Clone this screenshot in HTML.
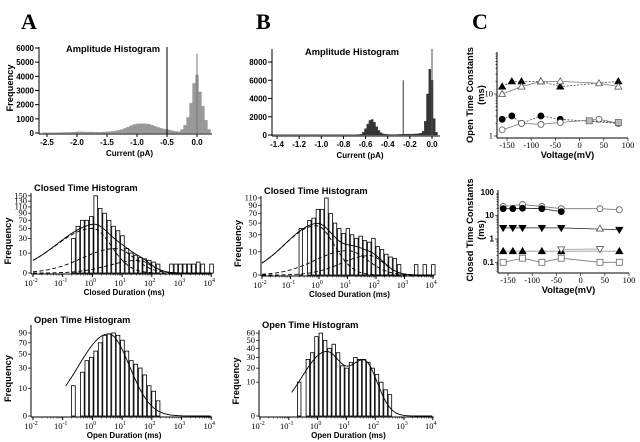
<!DOCTYPE html>
<html><head><meta charset="utf-8"><style>
html,body{margin:0;padding:0;background:#fff;}
svg{display:block;font-family:"Liberation Sans",sans-serif;}
.t{font-weight:bold;font-size:9.3px;}
.tk{font-size:8px;font-weight:bold;}
.lg{font-family:"Liberation Serif",serif;font-size:8.5px;}
</style></head><body>
<svg id="fig" width="640" height="442" viewBox="0 0 640 442">
<text x="21" y="29" font-family="Liberation Serif,serif" font-weight="bold" font-size="22">A</text>
<text x="256" y="29" font-family="Liberation Serif,serif" font-weight="bold" font-size="22">B</text>
<text x="472" y="29" font-family="Liberation Serif,serif" font-weight="bold" font-size="22">C</text>
</svg>
<script>
// ---- data ----
const ampABins = [-2.55,-2.5,-2.45,-2.4,-2.35,-2.3,-2.25,-2.2,-2.15,-2.1,-2.05,-2.0,-1.95,-1.9,-1.85,-1.8,-1.75,-1.7,-1.65,-1.6,-1.55,-1.5,-1.45,-1.4,-1.35,-1.3,-1.25,-1.2,-1.15,-1.1,-1.05,-1.0,-0.95,-0.9,-0.85,-0.8,-0.75,-0.7,-0.65,-0.6,-0.55,-0.5,-0.45,-0.4,-0.35,-0.3,-0.25,-0.2,-0.15,-0.1,-0.05,0.0,0.05,0.1,0.15,0.2];
const ampACounts = [20,20,20,20,20,30,30,40,40,50,60,80,80,80,70,70,70,60,60,60,70,80,100,120,150,200,250,330,420,520,600,640,660,660,650,620,560,480,400,330,280,250,200,150,110,100,250,550,1100,2100,3500,4100,2900,1900,900,250];
const ampASpike = [0.0, 5600];
const ampAThreshold = -0.5;
const ampATicksX = [-2.5,-2.0,-1.5,-1.0,-0.5,0.0];
const ampATicksY = [0,1000,2000,3000,4000,5000,6000];

const ampBBins = [-1.44,-1.42,-1.40,-1.38,-1.36,-1.34,-1.32,-1.30,-1.28,-1.26,-1.24,-1.22,-1.20,-1.18,-1.16,-1.14,-1.12,-1.10,-1.08,-1.06,-1.04,-1.02,-1.00,-0.98,-0.96,-0.94,-0.92,-0.90,-0.88,-0.86,-0.84,-0.82,-0.80,-0.78,-0.76,-0.74,-0.72,-0.70,-0.68,-0.66,-0.64,-0.62,-0.60,-0.58,-0.56,-0.54,-0.52,-0.50,-0.48,-0.46,-0.44,-0.42,-0.40,-0.38,-0.36,-0.34,-0.32,-0.30,-0.28,-0.26,-0.24,-0.22,-0.20,-0.18,-0.16,-0.14,-0.12,-0.10,-0.08,-0.06,-0.04,-0.02,0.0,0.02,0.04];
const ampBCounts = [30,30,30,30,30,30,30,30,30,30,30,30,30,30,30,30,30,30,30,30,30,30,30,30,30,30,30,30,30,30,30,30,30,30,30,30,30,30,40,60,100,300,700,1200,1600,1700,1400,900,500,250,120,80,60,50,50,50,50,60,70,80,90,100,100,100,110,120,150,200,400,1500,4500,7200,6000,1800,300];
const ampBThreshold = [-0.26, 6000];
const ampBTicksX = [-1.4,-1.2,-1.0,-0.8,-0.6,-0.4,-0.2,0.0];
const ampBTicksY = [0,2000,4000,6000,8000];

const logStart = -0.7, logStep = 0.15;
const closedACounts = [30,55,70,70,80,150,105,90,70,55,45,35,15,10,8,6,5,4,3,2,0,0,2,2,2,2,2,2,3,2,0,2];
const closedATau = [1.0, 6, 35];
const closedAAmp = [50, 15, 4];
const closedASigL = [0.89, 0.8, 0.7];
const closedASigR = [0.45, 0.45, 0.3];
const closedBCounts = [40,0,55,60,80,80,110,70,50,40,32,40,30,25,28,22,20,25,15,12,8,6,5,2,0,0,0,2,0,2,0,2];
const closedBTau = [0.8, 10, 60];
const closedBAmp = [45, 11, 7];
const closedBSigL = [0.8, 0.8, 0.7];
const closedBSigR = [0.45, 0.5, 0.35];
const openACounts = [12,0,25,40,45,55,70,85,88,90,85,75,55,40,35,30,22,12,8,3];
const openATau = [3.5];
const openAAmp = [88];
const openASigL = [0.72];
const openASigR = [0.5];
const openBCounts = [10,0,28,35,55,60,50,40,45,35,22,20,25,30,28,28,25,20,15,10,6,4];
const openBTau = [2, 40];
const openBAmp = [36, 27];
const openBSigL = [0.6, 0.45];
const openBSigR = [0.45, 0.33];
const closedTicksY = [0,10,30,50,70,90,110,130,150];
const closedBTicksY = [0,10,30,50,70,90,110];
const openATicksY = [0,10,30,50,70,90];
const openBTicksY = [0,10,20,30,40,50,60];
const logTicks = [-2,-1,0,1,2,3,4];

const cVolt = [-150,-100,-50,0,50,100];
const oFiTriV = [-160,-140,-120,-80,-40,80], oFiTriT = [15,20,20,20,15,20];
const oOpTriV = [-160,-120,-80,-40,40,80], oOpTriT = [10,15,20,20,18,15];
const oFiCirV = [-160,-140,-120,-80,-40,80], oFiCirT = [2.5,3,2,3,2.5,2];
const oOpCirV = [-160,-120,-80,-40,40,80], oOpCirT = [1.4,2,1.9,2.1,2.5,2];
const oSqV = [20,80], oSqT = [2.3,2.1];
const cOpCirV = [-160,-120,-80,-40,40,80], cOpCirT = [25,30,25,20,20,18];
const cFiCirV = [-160,-140,-120,-80,-40], cFiCirT = [20,20,21,20,15];
const cDnTriV = [-160,-140,-120,-80,-40,80], cDnTriT = [3,3,3,3,3,2.5];
const cOpTriV = [40], cOpTriT = [2.8];
const cFiTriV = [-160,-140,-120,-80,-40,80], cFiTriT = [0.3,0.3,0.3,0.3,0.3,0.3];
const cOpDnV = [-40,40], cOpDnT = [0.36,0.37];
const cSqV = [-160,-120,-80,-40,40,80], cSqT = [0.1,0.15,0.1,0.15,0.1,0.1];

// ---- drawing ----
const svg = document.getElementById('fig');
const NS = 'http://www.w3.org/2000/svg';
function el(tag, at, parent){ const e=document.createElementNS(NS,tag); for(const k in at) e.setAttribute(k,at[k]); (parent||svg).appendChild(e); return e; }
function txt(x,y,s,cls,anchor,parent){ const e=el('text',{x:x,y:y,class:cls,'text-anchor':anchor||'middle'},parent); e.textContent=s; return e; }
function grp(name){ const g=el('g',{});   return g; }

function ampPanel(name,cfg,bins,counts,step,ticksX,ticksY,fill){
  const g=grp(name);
  const X=v=>cfg.x0+v*cfg.sx, Y=c=>cfg.y0-c*cfg.sy;
  const bars=el('g',{},g);  
  bins.forEach((b,i)=>{ const y=Y(counts[i]); el('rect',{x:X(b-step/2),y:y,width:Math.abs(step*cfg.sx),height:cfg.y0-y,fill:fill,stroke:fill,'stroke-width':0.3},bars); });
  el('line',{x1:cfg.ax,y1:cfg.top,x2:cfg.ax,y2:cfg.y0+1,stroke:'#000','stroke-width':1},g);
  el('line',{x1:cfg.ax,y1:cfg.y0+1,x2:cfg.right,y2:cfg.y0+1,stroke:'#000','stroke-width':1},g);
  ticksY.forEach(t=>{ el('line',{x1:cfg.ax-4,y1:Y(t),x2:cfg.ax,y2:Y(t),stroke:'#000'},g); txt(cfg.ax-5,Y(t)+3,String(t),'tk','end',g); });
  ticksX.forEach(t=>{ el('line',{x1:X(t),y1:cfg.y0+1,x2:X(t),y2:cfg.y0+4,stroke:'#000'},g); txt(X(t),cfg.y0+12,t.toFixed(1),'tk','middle',g); });
  txt((cfg.ax+cfg.right)/2+4,cfg.y0+23,'Current (pA)','tk','middle',g);
  return {g:g,X:X,Y:Y};
}
const pA=ampPanel('amplitude-histogram-a',{x0:197,sx:60,y0:133,sy:85/6000,ax:39,top:47,right:212},ampABins,ampACounts,0.05,ampATicksX,ampATicksY,'#999');
el('line',{x1:pA.X(ampAThreshold),y1:47,x2:pA.X(ampAThreshold),y2:134,stroke:'#000','stroke-width':1},pA.g);
el('line',{x1:pA.X(ampASpike[0]),y1:pA.Y(ampASpike[1]),x2:pA.X(ampASpike[0]),y2:133,stroke:'#777','stroke-width':1},pA.g);
txt(113,52,'Amplitude Histogram','t','middle',pA.g);
const fy=txt(0,0,'Frequency','t','middle',pA.g); fy.setAttribute('transform','translate(13,88) rotate(-90)');

const pB=ampPanel('amplitude-histogram-b',{x0:432,sx:110.7,y0:135,sy:73/8000,ax:272,top:49,right:440},ampBBins,ampBCounts,0.02,ampBTicksX,ampBTicksY,'#333');
el('line',{x1:pB.X(ampBThreshold[0]),y1:pB.Y(ampBThreshold[1]),x2:pB.X(ampBThreshold[0]),y2:135,stroke:'#333','stroke-width':1},pB.g);
el('line',{x1:pB.X(0),y1:49,x2:pB.X(0),y2:135,stroke:'#555','stroke-width':1},pB.g);
txt(352,55,'Amplitude Histogram','t','middle',pB.g);

function comp(t,tau,a,sl,sr){ const d=Math.log10(t/tau); const s=d<0?sl:sr; return a*Math.exp(-d*d/(2*s*s)); }
function dwellPanel(name,cfg,counts,taus,amps,sl,sr,ticksY,title,xlabel,dashed,curveStart){
  const g=grp(name);
  const X=l=>cfg.x0+(l+2)*cfg.dec, Y=c=>cfg.y0-Math.sqrt(Math.max(c,0))*cfg.k;
  const bars=el('g',{},g);  
  counts.forEach((c,i)=>{ if(c<=0) return; const l=logStart+i*logStep; const y=Y(c); el('rect',{x:X(l),y:y,width:logStep*cfg.dec-0.8,height:cfg.y0-y,fill:'#fff',stroke:'#000','stroke-width':0.8},bars); });
  el('line',{x1:cfg.ax,y1:cfg.top,x2:cfg.ax,y2:cfg.y0+1,stroke:'#000'},g);
  el('line',{x1:cfg.ax,y1:cfg.y0+1,x2:X(4)+1,y2:cfg.y0+1,stroke:'#000'},g);
  ticksY.forEach(t=>{ el('line',{x1:cfg.ax-3,y1:Y(t),x2:cfg.ax,y2:Y(t),stroke:'#000','stroke-width':0.7},g); txt(cfg.ax-4,Y(t)+2.5,String(t),'lg','end',g).setAttribute('font-size','6.5'); });
  logTicks.forEach(t=>{ el('line',{x1:X(t),y1:cfg.y0+1,x2:X(t),y2:cfg.y0+4,stroke:'#000'},g);
    for(let m=2;m<10&&t<4;m++){ const xm=X(t+Math.log10(m)); el('line',{x1:xm,y1:cfg.y0+1,x2:xm,y2:cfg.y0+2.5,stroke:'#000','stroke-width':0.5},g); }
    const e=txt(X(t)-2,cfg.y0+13,'10','lg','middle',g); const s=el('tspan',{dy:-4,'font-size':6},e); s.textContent=String(t); });
  txt(X(1)+2,cfg.y0+22,xlabel,'tk','middle',g).setAttribute('font-size','9');
  txt(cfg.ax+3,cfg.top-2,title,'t','start',g);
  const fq=txt(0,0,'Frequency','t','middle',g); fq.setAttribute('transform','translate('+(cfg.ax-20)+','+((cfg.top+cfg.y0)/2+8)+') rotate(-90)');
  function path(fn){ let d=''; for(let l=curveStart;l<=4;l+=0.04){ const v=fn(Math.pow(10,l)); d+=(d?'L':'M')+X(l).toFixed(1)+','+Y(v).toFixed(1); } return d; }
  if(dashed) taus.forEach((tau,i)=>{ el('path',{d:path(t=>comp(t,tau,amps[i],sl[i],sr[i])),fill:'none',stroke:'#000','stroke-width':0.9,'stroke-dasharray':'4,2.5'},g); });
  el('path',{d:path(t=>taus.reduce((s,tau,i)=>s+comp(t,tau,amps[i],sl[i],sr[i]),0)),fill:'none',stroke:'#000','stroke-width':0.9},g);
}
dwellPanel('closed-time-histogram-a',{x0:33,dec:29.7,y0:273,k:6.3,ax:31,top:193},closedACounts,closedATau,closedAAmp,closedASigL,closedASigR,closedTicksY,'Closed Time Histogram','Closed Duration (ms)',true,-2);
dwellPanel('open-time-histogram-a',{x0:33,dec:29.7,y0:416,k:8.75,ax:31,top:325},openACounts,openATau,openAAmp,openASigL,openASigR,openATicksY,'Open Time Histogram','Open Duration (ms)',false,-0.9);
dwellPanel('closed-time-histogram-b',{x0:262,dec:28.5,y0:275,k:7.34,ax:261,top:196},closedBCounts,closedBTau,closedBAmp,closedBSigL,closedBSigR,closedBTicksY,'Closed Time Histogram','Closed Duration (ms)',true,-2);
dwellPanel('open-time-histogram-b',{x0:260,dec:28.8,y0:416,k:10.7,ax:259,top:330},openBCounts,openBTau,openBAmp,openBSigL,openBSigR,openBTicksY,'Open Time Histogram','Open Duration (ms)',false,-0.9);

function cPanel(name,cfg,ytitle,yticks){
  const g=grp(name);
  const X=v=>cfg.x0+(v+150)*0.484, Y=t=>cfg.y1-Math.log10(t)*cfg.dec;
  el('line',{x1:cfg.ax,y1:cfg.top,x2:cfg.ax,y2:cfg.bot,stroke:'#000'},g);
  el('line',{x1:cfg.ax,y1:cfg.bot,x2:X(100),y2:cfg.bot,stroke:'#000'},g);
  for(let e=cfg.dmin;e<cfg.dmax;e++) for(let m=1;m<10;m++){ const y=Y(m*Math.pow(10,e)); if(y<cfg.top-0.5||y>cfg.bot) continue; el('line',{x1:cfg.ax-(m==1?3:1.5),y1:y,x2:cfg.ax,y2:y,stroke:'#000','stroke-width':0.6},g); }
  yticks.forEach(t=>{ const e=txt(cfg.ax-4,Y(t)+2.5,String(t),cfg.ytcls,'end',g); e.setAttribute('font-size',cfg.ytsize); });
  cVolt.forEach(v=>{ el('line',{x1:X(v),y1:cfg.bot,x2:X(v),y2:cfg.bot+3,stroke:'#000','stroke-width':0.6},g); txt(X(v),cfg.bot+10,String(v),'lg','middle',g).setAttribute('font-size','6.5'); });
  txt(X(-25),cfg.bot+20,'Voltage(mV)','t','middle',g).setAttribute('font-size','10');
  const t1=txt(0,0,ytitle,'t','middle',g); t1.setAttribute('transform','translate(473,'+cfg.mid+') rotate(-90)');
  const t2=txt(0,0,'(ms)','t','middle',g); t2.setAttribute('transform','translate(484,'+cfg.mid+') rotate(-90)');
  return {g:g,X:X,Y:Y};
}
function mark(g,type,x,y,fill){
  const s=3;
  if(type==='c') el('circle',{cx:x,cy:y,r:s,fill:fill,stroke:fill==='#fff'?'#555':'#000','stroke-width':0.8},g);
  else if(type==='t') el('polygon',{points:`${x},${y-s-0.5} ${x-s-0.5},${y+s-0.5} ${x+s+0.5},${y+s-0.5}`,fill:fill,stroke:fill==='#fff'?'#555':'#000','stroke-width':0.8},g);
  else if(type==='d') el('polygon',{points:`${x},${y+s+0.5} ${x-s-0.5},${y-s+0.5} ${x+s+0.5},${y-s+0.5}`,fill:fill,stroke:fill==='#fff'?'#555':'#000','stroke-width':0.8},g);
  else el('rect',{x:x-s,y:y-s,width:2*s,height:2*s,fill:fill,stroke:'#666','stroke-width':0.8},g);
}
function series(p,name,vs,ts,type,fill,dash,color){
  const g=el('g',{},p.g);  
  if(vs.length>1) el('polyline',{points:vs.map((v,i)=>p.X(v)+','+p.Y(ts[i])).join(' '),fill:'none',stroke:color||'#444','stroke-width':0.8,'stroke-dasharray':dash?'2,1.5':'none'},g);
  vs.forEach((v,i)=>mark(g,type,p.X(v),p.Y(ts[i]),fill));
}
const c1=cPanel('open-time-constants-chart',{x0:507,y1:136,dec:42,ax:497,top:52,bot:138,dmin:0,dmax:2,ytcls:'lg',ytsize:6,mid:95},'Open Time Constants',[1,10]);
series(c1,'open-filled-triangles',oFiTriV,oFiTriT,'t','#000',true);
series(c1,'open-open-triangles',oOpTriV,oOpTriT,'t','#fff',false,'#777');
series(c1,'open-filled-circles',oFiCirV,oFiCirT,'c','#000',true);
series(c1,'open-open-circles',oOpCirV,oOpCirT,'c','#fff',false,'#777');
series(c1,'open-squares',oSqV,oSqT,'s','#bbb',true);
const c2=cPanel('closed-time-constants-chart',{x0:508,y1:239,dec:23.3,ax:498,top:190,bot:273,dmin:-2,dmax:2,ytcls:'tk',ytsize:7.5,mid:230},'Closed Time Constants',[0.1,1,10,100]);
series(c2,'closed-open-circles',cOpCirV,cOpCirT,'c','#fff',false,'#777');
series(c2,'closed-filled-circles',cFiCirV,cFiCirT,'c','#000',false,'#222');
series(c2,'closed-filled-down-triangles',cDnTriV,cDnTriT,'d','#000',false,'#222');
series(c2,'closed-open-triangles',cOpTriV,cOpTriT,'t','#fff',false);
series(c2,'closed-filled-triangles',cFiTriV,cFiTriT,'t','#000',false,'#999');
series(c2,'closed-open-down-triangles',cOpDnV,cOpDnT,'d','#fff',false,'#999');
series(c2,'closed-squares',cSqV,cSqT,'s','#fff',false,'#777');
</script>
</body></html>
